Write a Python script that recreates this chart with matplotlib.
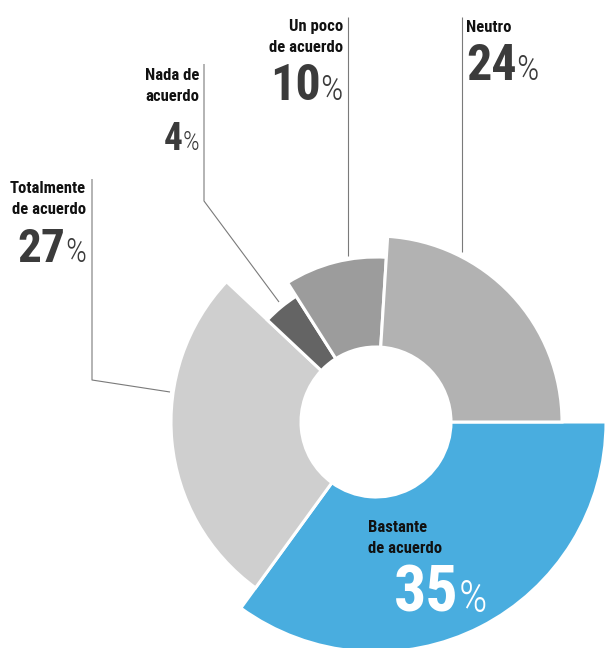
import matplotlib
matplotlib.use("Agg")
import matplotlib.pyplot as plt
from matplotlib.patches import Wedge
import numpy as np

# slices, clockwise from 3 o'clock
categories = ["Bastante\nde acuerdo", "Totalmente\nde acuerdo", "Nada de\nacuerdo",
              "Un poco\nde acuerdo", "Neutro"]
values = [35, 27, 4, 10, 24]

colors = ["#49addf", "#cfcfcf", "#646464", "#9c9c9c", "#b2b2b2"]
outer_r = [230, 205, 149, 165, 186]
inner_r = 75
center = (376, 422)

plt.rcParams["font.family"] = ["Liberation Sans Narrow", "Roboto Condensed", "Lato"]

fig = plt.figure(figsize=(6.05, 6.48), dpi=100)
ax = fig.add_axes([0, 0, 1, 1])
ax.set_xlim(0, 605)
ax.set_ylim(648, 0)
ax.axis("off")

# y axis is flipped, so increasing theta runs clockwise on screen
ends = np.cumsum(values) * 3.6
starts = ends - np.array(values) * 3.6
for t1, t2, r, c in zip(starts, ends, outer_r, colors):
    ax.add_patch(Wedge(center, r, t1, t2, width=r - inner_r,
                       facecolor=c, edgecolor="white", linewidth=2.2))

# leader lines
leaders = {
    1: [(92, 179), (92, 380), (170, 392)],
    2: [(204, 64), (204, 201), (279, 302)],
    3: [(348, 17), (348, 256)],
    4: [(461.5, 17), (461.5, 252)],
}
for pts in leaders.values():
    xs, ys = zip(*pts)
    ax.plot(xs, ys, color="#7a7a7a", lw=0.8, solid_capstyle="butt")

renderer = fig.canvas.get_renderer()
inv = ax.transData.inverted()


def width_of(t):
    bb = t.get_window_extent(renderer=renderer)
    (x0, _), (x1, _) = inv.transform([(bb.x0, 0), (bb.x1, 0)])
    return x1 - x0


def draw_label(i, x, y_name, y_num, num_size, ha, x_num=None,
               name_color="#111111", num_color="#3b3b3b"):
    for k, line in enumerate(categories[i].split("\n")):
        ax.text(x, y_name + k * 21, line, ha=ha, va="baseline", fontsize=12,
                fontweight="bold", color=name_color)
    pct_size = num_size * 0.7
    x_num = x if x_num is None else x_num
    if ha == "right":
        p = ax.text(x_num, y_num, "%", ha="right", va="baseline", fontsize=pct_size,
                    fontweight="light", color=num_color)
        ax.text(x_num - width_of(p), y_num, str(values[i]), ha="right", va="baseline",
                fontsize=num_size, fontweight="bold", color=num_color)
    else:
        n = ax.text(x_num, y_num, str(values[i]), ha="left", va="baseline",
                    fontsize=num_size, fontweight="bold", color=num_color)
        ax.text(x_num + width_of(n), y_num, "%", ha="left", va="baseline",
                fontsize=pct_size, fontweight="light", color=num_color)


draw_label(1, 86, 193, 262, 34, "right")
draw_label(2, 199, 80, 150, 27, "right")
draw_label(3, 343, 31, 100, 36, "right")
draw_label(4, 466, 32, 80, 36, "left")
draw_label(0, 368, 532, 612, 46, "left", x_num=394, num_color="white")

fig.savefig("out.png", dpi=100)
